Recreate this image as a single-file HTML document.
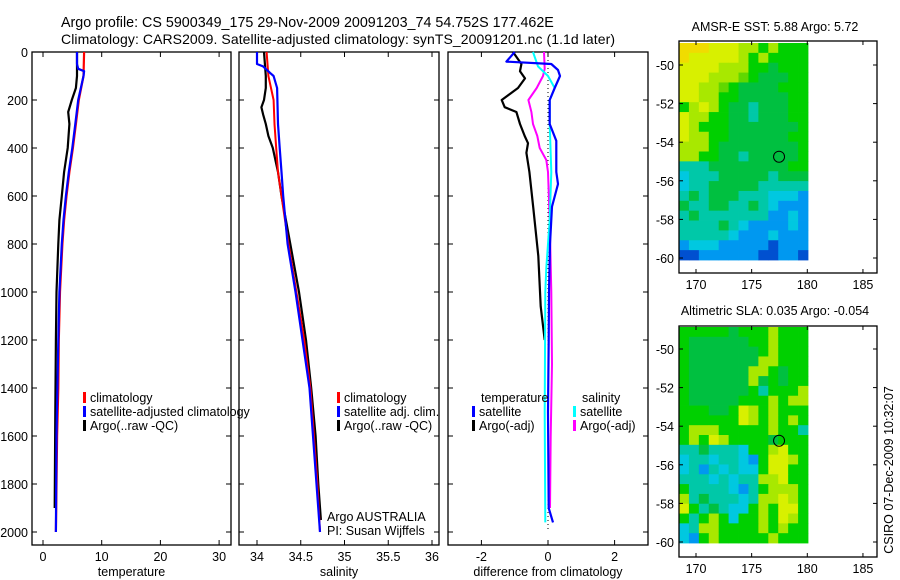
<!DOCTYPE html>
<html><head><meta charset="utf-8">
<style>
html,body{margin:0;padding:0;background:#fff;}
svg{display:block;font-family:"Liberation Sans",sans-serif;}
</style></head>
<body>
<svg id="fig" width="900" height="580" viewBox="0 0 900 580" xmlns="http://www.w3.org/2000/svg">
<text x="61" y="27" font-size="14.3">Argo profile: CS 5900349_175 29-Nov-2009 20091203_74 54.752S 177.462E</text>
<text x="61" y="44" font-size="14" textLength="554">Climatology: CARS2009. Satellite-adjusted climatology: synTS_20091201.nc (1.1d later)</text>
<text x="775" y="31" font-size="12.5" text-anchor="middle">AMSR-E SST: 5.88 Argo: 5.72</text>
<text x="775" y="315" font-size="12.5" text-anchor="middle">Altimetric SLA: 0.035 Argo: -0.054</text>
<text transform="translate(893,470) rotate(-90)" font-size="12.5" text-anchor="middle">CSIRO 07-Dec-2009 10:32:07</text>
<g id="plots"></g>
</svg>
<script>
// ---- data ----
const depthTicks = [0,200,400,600,800,1000,1200,1400,1600,1800,2000];
const tempTicks = [0,10,20,30];
const salTicks = [34,34.5,35,35.5,36];
const salTickLabels = ["34","34.5","35","35.5","36"];
const diffTicks = [-2,0,2];
const latTicks = [-50,-52,-54,-56,-58,-60];
const lonTicks = [170,175,180,185];

const tClimDepth = [0,100,200,300,400,500,600,700,800,1000,1200,1400,1600,2000];
const tClimVal   = [7.0,6.9,6.1,5.6,5.1,4.5,4.0,3.6,3.3,2.9,2.7,2.6,2.4,2.2];
const tSatDepth  = [0,50,70,80,100,200,300,400,500,600,700,800,1000,1200,1600,2000];
const tSatVal    = [5.8,5.8,6.0,7.0,6.9,6.0,5.5,5.0,4.4,3.9,3.5,3.2,2.8,2.6,2.3,2.2];
const tArgoDepth = [0,100,150,200,250,300,400,500,600,700,800,1000,1200,1500,1900];
const tArgoVal   = [5.8,5.8,5.6,4.9,4.3,4.5,4.2,3.6,3.2,2.8,2.6,2.3,2.2,2.1,2.0];

const sClimDepth = [0,100,200,300,400,500,600,800,1000,1200,1400,1600,1800,2000];
const sClimVal   = [34.11,34.13,34.19,34.2,34.22,34.24,34.28,34.36,34.45,34.54,34.61,34.65,34.69,34.72];
const sSatDepth  = [0,50,60,87,100,150,300,400,500,600,800,1000,1200,1400,1600,1800,2000];
const sSatVal    = [34.0,34.0,34.07,34.15,34.19,34.23,34.24,34.26,34.28,34.3,34.35,34.44,34.52,34.6,34.64,34.68,34.72];
const sArgoDepth = [0,100,150,200,230,260,300,350,400,500,600,800,1000,1200,1400,1600,1800,1950];
const sArgoVal   = [34.08,34.1,34.1,34.08,34.05,34.07,34.1,34.13,34.18,34.24,34.28,34.38,34.48,34.56,34.62,34.67,34.7,34.73];

const dTSatDepth = [0,40,50,75,100,150,200,300,370,500,550,644,800,1000,1200,1500,1900,1960];
const dTSatVal   = [-1.0,-1.25,0.1,0.3,0.36,0.2,0.05,0.05,0.25,0.25,0.3,0.12,0.06,0.03,0.02,0.0,0.02,0.15];
const dTArgoDepth= [0,50,80,110,150,200,230,250,300,350,380,420,500,650,850,1060,1200];
const dTArgoVal  = [-1.05,-0.8,-0.84,-0.69,-0.9,-1.39,-1.3,-0.95,-0.84,-0.7,-0.6,-0.65,-0.56,-0.44,-0.29,-0.22,-0.1];
const dSArgoDepth= [0,70,100,150,200,250,300,350,400,450,500,700,1000,1300,1600,1900];
const dSArgoVal  = [-0.12,-0.1,-0.15,-0.34,-0.59,-0.5,-0.45,-0.32,-0.25,-0.05,0.0,0.05,0.1,0.12,0.08,0.06];
const dSSatDepth = [0,60,100,150,200,300,500,700,900,1000,1500,1960];
const dSSatVal   = [-0.45,-0.3,0.0,0.2,0.05,0.05,0.1,0.05,-0.05,-0.08,-0.1,-0.08];

const sstRows = [
"YYYyyyLLGLGGG","YyyyyyLGLGGGG","yyyyLLLGGgGGG","yyyLLLlGgggGG","yyLLlGggggGGG",
"yyLLGGgggggGG","GLyLGggtgggGG","yLLGGggtgggGG","yLGGGgggggggG","yLLGGggggggGG",
"LLLGggggggggG","LLGGggtgggggG","tttggggggggGG","ctttgggggtggg","cttgggggttttt",
"tgtgggtttcccb","gttggttgtcbbb","tgtttttttbbcb","ttttgtcbbbbcb","tttttcbbbcbbb",
"bcccbbbbbdbbb","ddbbbbbbddbbd"];
const slaRows = [
"GGGGGgGGGLGGG","GggggggGGLGGG","GgggggggGLGGG","GgggggggLLGGG","GggggggLLGgGG",
"GggggggLgGgGG","GggggggGtGGGL","GgggggGGGLGLL","GGGggGyLGLGGG","GGGGGGyLGLGLG",
"GLLLGGGGGLGGt","GLGyLGGGGgGGG","ttgtttcGGLyGG","cttcttcbGyyLG","ctbtctccGyyGG",
"tttctcttLLyGG","GttttcbtGLLLG","LtgtttctLLyLG","yGtgtccGLGyyG","GtGLGcGGLGyLG",
"ctLLGGGGLGLGG","cbGLGGGGGLGGG"];
const palette = {Y:"#f0dc00",y:"#d8f000",L:"#a8e800",l:"#60d800",G:"#00d000",g:"#00c040",t:"#00c8a8",c:"#00c8e0",b:"#0098f0",d:"#0050d0"};
const argoLon = 177.462, argoLat = -54.752;

// ---- drawing ----
const NS="http://www.w3.org/2000/svg";
const root=document.getElementById('plots');
function mk(tag,attrs,parent){const e=document.createElementNS(NS,tag);for(const k in attrs)e.setAttribute(k,attrs[k]);(parent||root).appendChild(e);return e;}
const Y0=52, YS=0.24;
function yD(d){return Y0+d*YS;}

function profilePanel(name,x0,x1,xf,xticks,xlabels,xlabel,showY){
  const g=mk('g',{});
  
  
  const fr=mk('rect',{x:x0,y:52,width:x1-x0,height:493,fill:'none',stroke:'#000','stroke-width':1.3},g);
  
  
  depthTicks.forEach(d=>{
    const y=yD(d);
    mk('line',{x1:x0,y1:y,x2:x0+5,y2:y,stroke:'#000'},g);
    mk('line',{x1:x1-5,y1:y,x2:x1,y2:y,stroke:'#000'},g);
    if(showY){const t=mk('text',{x:28,y:y+5,'font-size':12.5,'text-anchor':'end'},g);t.textContent=d;
      
      }
  });
  xticks.forEach((v,i)=>{
    const x=xf(v);
    mk('line',{x1:x,y1:545,x2:x,y2:540,stroke:'#000'},g);
    mk('line',{x1:x,y1:52,x2:x,y2:57,stroke:'#000'},g);
    const t=mk('text',{x:x,y:561,'font-size':12.5,'text-anchor':'middle'},g);t.textContent=xlabels[i];
    
    
  });
  const xl=mk('text',{x:(x0+x1)/2,y:576,'font-size':12.5,'text-anchor':'middle'},g);xl.textContent=xlabel;
  
  
  return g;
}
function series(g,xf,depths,vals,color,w,name){
  let d='';
  for(let i=0;i<depths.length;i++){d+=(i?'L':'M')+xf(vals[i]).toFixed(1)+','+yD(depths[i]).toFixed(1);}
  const p=mk('path',{d:d,fill:'none',stroke:color,'stroke-width':w,'stroke-linejoin':'round'},g);
  
  
}
function legend(g,x,y,color,label,name){
  if(color){const r=mk('rect',{x:x,y:y-6,width:3,height:11,fill:color},g);}
  const t=mk('text',{x:x+7,y:y+4,'font-size':12.5},g);t.textContent=label;
  
  
}

// Temperature
const xT=v=>43+v*5.87;
const gT=profilePanel('temperature',32,231,xT,tempTicks,tempTicks.map(String),'temperature',true);
series(gT,xT,tArgoDepth,tArgoVal,'#000',2.2,'temperature-argo-line');
series(gT,xT,tClimDepth,tClimVal,'#f00',2.2,'temperature-climatology-line');
series(gT,xT,tSatDepth,tSatVal,'#00f',2.2,'temperature-satellite-line');
legend(gT,83,398,'#f00','climatology','legend-climatology');
legend(gT,83,412,'#00f','satellite-adjusted climatology','legend-satellite-adjusted');
legend(gT,83,426,'#000','Argo(..raw -QC)','legend-argo');

// Salinity
const xS=v=>257+(v-34)*87.5;
const gS=profilePanel('salinity',239,439,xS,salTicks,salTickLabels,'salinity',false);
series(gS,xS,sArgoDepth,sArgoVal,'#000',2.2,'salinity-argo-line');
series(gS,xS,sClimDepth,sClimVal,'#f00',2,'salinity-climatology-line');
series(gS,xS,sSatDepth,sSatVal,'#00f',2.2,'salinity-satellite-line');
legend(gS,337,398,'#f00','climatology','legend-sal-climatology');
legend(gS,337,412,'#00f','satellite adj. clim.','legend-sal-satellite');
legend(gS,337,426,'#000','Argo(..raw -QC)','legend-sal-argo');
legend(gS,320,517,null,'Argo AUSTRALIA','argo-australia-label');
legend(gS,320,531,null,'PI: Susan Wijffels','pi-label');

// Difference
const xDf=v=>548+v*33.3;
const gD=profilePanel('difference',448,648,xDf,diffTicks,diffTicks.map(String),'difference from climatology',false);
mk('line',{x1:xDf(0),y1:52,x2:xDf(0),y2:532,stroke:'#000','stroke-dasharray':'1,3'},gD);
series(gD,xDf,dTArgoDepth,dTArgoVal,'#000',2.2,'diff-temperature-argo-line');
series(gD,xDf,dSArgoDepth,dSArgoVal,'#f0f',2,'diff-salinity-argo-line');
series(gD,xDf,dSSatDepth,dSSatVal,'#0ff',2,'diff-salinity-satellite-line');
series(gD,xDf,dTSatDepth,dTSatVal,'#00f',2.2,'diff-temperature-satellite-line');
legend(gD,474,398,null,'temperature','legend-diff-temperature-head');
legend(gD,472,412,'#00f','satellite','legend-diff-temp-satellite');
legend(gD,472,426,'#000','Argo(-adj)','legend-diff-temp-argo');
legend(gD,575,398,null,'salinity','legend-diff-salinity-head');
legend(gD,573,412,'#0ff','satellite','legend-diff-sal-satellite');
legend(gD,573,426,'#f0f','Argo(-adj)','legend-diff-sal-argo');

// Maps
function mapPanel(name,top,latM60,latM50,rows,imgTop,imgBot){
  const g=mk('g',{});
  
  
  const lonX=v=>696+(v-170)*11.13;
  const latY=v=>latM50+(-50-v)*(latM60-latM50)/10;
  const nr=rows.length,nc=rows[0].length;
  const x0=679,x1=808,cw=(x1-x0)/nc,ch=(imgBot-imgTop)/nr;
  rows.forEach((r,i)=>{for(let j=0;j<nc;j++){
    mk('rect',{x:(x0+j*cw).toFixed(2),y:(imgTop+i*ch).toFixed(2),width:(cw+0.4).toFixed(2),height:(ch+0.4).toFixed(2),fill:palette[r[j]]},g);
  }});
  const bot=latM60+15;
  const fr=mk('rect',{x:679,y:top,width:198,height:bot-top,fill:'none',stroke:'#000','stroke-width':1.3},g);
  
  
  latTicks.forEach(v=>{const y=latY(v);
    mk('line',{x1:679,y1:y,x2:683,y2:y,stroke:'#000'},g);
    mk('line',{x1:873,y1:y,x2:877,y2:y,stroke:'#000'},g);
    const t=mk('text',{x:674,y:y+5,'font-size':12.5,'text-anchor':'end'},g);t.textContent=v;
    
    });
  lonTicks.forEach(v=>{const x=lonX(v);
    mk('line',{x1:x,y1:bot,x2:x,y2:bot-4,stroke:'#000'},g);
    mk('line',{x1:x,y1:top,x2:x,y2:top+4,stroke:'#000'},g);
    const t=mk('text',{x:x,y:bot+16,'font-size':12.5,'text-anchor':'middle'},g);t.textContent=v;
    
    });
  const c=mk('circle',{cx:lonX(argoLon),cy:latY(argoLat),r:5.5,fill:'none',stroke:'#000','stroke-width':1},g);
  
  
}
mapPanel('sst',41,258,65,sstRows,43,260);
mapPanel('sla',326,542,349,slaRows,327,543);
</script>
</body></html>
